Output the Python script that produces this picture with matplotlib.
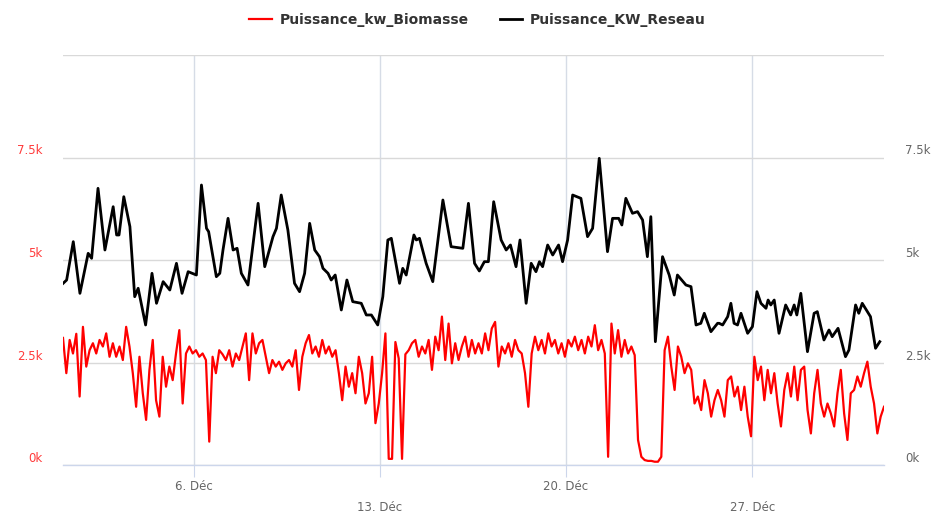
import matplotlib
matplotlib.use("Agg")
import matplotlib.pyplot as plt
import matplotlib.transforms as mtransforms
import numpy as np
import pandas as pd

# Puissance_kw_Biomasse: one reading every 3 h, starting 1 Dec 02:00
BIO_START = "2023-12-01 02:00"
BIO_STEP_H = 3
bio_kw = [
    3100, 2240, 3050, 2720, 3200, 1670, 3370, 2400, 2800, 2970,
    2720, 3050, 2890, 3210, 2640, 2970, 2640, 2890, 2560, 3370,
    2890, 2240, 1420, 2640, 1750, 1100, 2320, 3050, 1580, 1180,
    2640, 1910, 2400, 2070, 2720, 3290, 1500, 2720, 2890, 2720,
    2800, 2640, 2720, 2560, 570, 2640, 2240, 2800, 2700,
    2560, 2800, 2400, 2720, 2560, 2890, 3210, 2070, 3210, 2720,
    2970, 3050, 2640, 2240, 2560, 2400, 2520, 2320, 2480, 2560,
    2400, 2800, 1830, 2640, 2970, 3170, 2720, 2890, 2640, 3050,
    2720, 2890, 2640, 2800, 2240, 1580, 2400, 1910, 2240, 1750,
    2640, 2240, 1500, 1750, 2640, 1020, 1500, 2240, 3210,
    150, 150, 3000, 2600, 150, 2700, 2800, 2970, 3050, 2640,
    2890, 2720, 3050, 2320, 3130, 2800, 3620, 2560, 3450, 2480,
    2970, 2560, 2890, 3130, 2640, 3050, 2720, 2970, 2720, 3210,
    2800, 3330, 3490, 2400, 2890, 2720, 2970, 2640, 3050, 2800,
    2720, 2240, 1420, 2720, 3130, 2800, 3050, 2720, 3210, 2890,
    3050, 2720, 2970, 2640, 3050, 2890, 3130, 2800, 3050, 2720,
    3130, 2890, 3410, 2800, 3050, 2720, 200, 3450, 2720, 3290,
    2640, 3050, 2720, 2890, 2680, 610, 200, 120, 100, 100,
    80, 80, 200, 2800, 3130, 2400, 1830, 2890, 2640, 2240,
    2480, 2320, 1500, 1670, 1340, 2070, 1750, 1180, 1580, 1830,
    1580, 1180, 2070, 2160, 1670, 1910, 1340, 1910, 1180, 700,
    2640, 2070, 2400, 1580, 2320, 1750, 2240, 1500, 940, 1830,
    2240, 1670, 2400, 1580, 2320, 2400, 1340, 770, 1750, 2320,
    1500, 1180, 1500, 1260, 940, 1750, 2320, 1260, 610, 1750,
    1830, 2160, 1910, 2240, 2520, 1910, 1500, 770, 1180, 1420,
]

# Puissance_KW_Reseau: (day of December, kW)
res_day = [
    1.09, 1.22, 1.47, 1.72, 2.03, 2.16, 2.40, 2.66, 2.97, 3.10,
    3.19, 3.37, 3.60, 3.78, 3.91, 4.19, 4.43, 4.60, 4.85, 5.10,
    5.35, 5.56, 5.79, 6.10, 6.29, 6.48, 6.56, 6.85, 6.98, 7.10,
    7.29, 7.48, 7.63, 7.79, 8.04, 8.42, 8.67, 8.98, 9.11, 9.29,
    9.54, 9.79, 9.98, 10.17, 10.36, 10.55, 10.73, 10.86, 11.05, 11.17,
    11.32, 11.55, 11.76, 11.98, 12.30, 12.49, 12.68, 12.92, 13.11, 13.30,
    13.43, 13.74, 13.86, 13.99, 14.28, 14.37, 14.49, 14.74, 14.99, 15.37,
    15.68, 16.12, 16.33, 16.56, 16.74, 16.93, 17.08, 17.28, 17.56, 17.75,
    17.91, 18.12, 18.27, 18.50, 18.69, 18.87, 19.00, 19.12, 19.31, 19.50,
    19.72, 19.87, 20.06, 20.25, 20.56, 20.81, 21.00, 21.25, 21.56, 21.75,
    21.98, 22.10, 22.25, 22.50, 22.69, 22.88, 23.06, 23.19, 23.36, 23.63,
    23.88, 24.07, 24.19, 24.51, 24.70, 24.89, 25.07, 25.20, 25.45, 25.70,
    25.76, 25.89, 26.08, 26.20, 26.32, 26.45, 26.58, 26.83, 27.01, 27.18,
    27.33, 27.52, 27.60, 27.70, 27.83, 28.01, 28.26, 28.45, 28.58, 28.68,
    28.83, 29.08, 29.33, 29.45, 29.70, 29.89, 30.01, 30.23, 30.51, 30.64,
    30.89, 31.01, 31.14, 31.45, 31.64, 31.80,
]
res_kw = [
    4432, 4512, 5447, 4187, 5163, 5041, 6748, 5244, 6300, 5610,
    5610, 6544, 5813, 4105, 4310, 3415, 4675, 3944, 4472, 4268,
    4919, 4187, 4715, 4634, 6829, 5772, 5691, 4593, 4675, 5244,
    6016, 5244, 5285, 4675, 4390, 6382, 4837, 5569, 5772, 6585,
    5732, 4431, 4227, 4675, 5894, 5244, 5081, 4797, 4675, 4512,
    4634, 3781, 4512, 3984, 3944, 3659, 3659, 3415, 4105, 5488,
    5529, 4431, 4797, 4634, 5610, 5488, 5529, 4919, 4472, 6463,
    5325, 5285, 6382, 4919, 4732, 4959, 4959, 6422, 5488, 5244,
    5366, 4837, 5488, 3944, 4919, 4715, 4959, 4837, 5366, 5122,
    5366, 4959, 5488, 6585, 6504, 5569, 5772, 7480, 5203, 6016,
    6016, 5854, 6504, 6139, 6179, 5976, 5081, 6057, 3008, 5081,
    4634, 4146, 4634, 4390, 4350, 3415, 3456, 3700, 3252, 3456,
    3456, 3415, 3618, 3944, 3456, 3415, 3700, 3212, 3374, 4227,
    3944, 3822, 4024, 3903, 4024, 3212, 3903, 3659, 3903, 3659,
    4187, 2764, 3700, 3740, 3049, 3293, 3130, 3334, 2642, 2805,
    3903, 3700, 3944, 3618, 2846, 3008,
]

y_ticks = [0, 2500, 5000, 7500, 10000]
y_labels = ["0k", "2.5k", "5k", "7.5k", ""]
x_tick_days = [6, 13, 20, 27]

month0 = pd.Timestamp("2023-12-01")
bio_t = pd.date_range(BIO_START, periods=len(bio_kw), freq=f"{BIO_STEP_H}h")
res_t = month0 + pd.to_timedelta(np.array(res_day) - 1, unit="D")
tick_t = [month0 + pd.Timedelta(days=d - 1) for d in x_tick_days]

fig = plt.figure(figsize=(9.44, 5.21), dpi=100)
ax = fig.add_axes([63 / 944, 56 / 521, 821 / 944, 410 / 521])
ax2 = ax.twinx()

l_bio, = ax.plot(bio_t, bio_kw, color="#ff0000", lw=1.6, solid_joinstyle="round")
l_res, = ax2.plot(res_t, res_kw, color="black", lw=2.0, solid_joinstyle="round")

for a in (ax, ax2):
    a.set_ylim(0, 10000)
    a.set_yticks(y_ticks, y_labels)
    for s in a.spines.values():
        s.set_visible(False)
ax.set_xlim(bio_t[0], bio_t[-1])

ax.spines["bottom"].set_visible(True)
ax.spines["bottom"].set_color("#ccd6eb")
ax.spines["bottom"].set_linewidth(1.0)

ax.grid(axis="y", color="#d9d9d9", lw=1.0)
ax.grid(axis="x", color="#d6dce6", lw=1.0)
ax.set_axisbelow(True)

ax.set_xticks(tick_t, [f"{d}. Déc" for d in x_tick_days])
ax.tick_params(axis="x", length=8.5, width=0.8, color="#ccd6eb",
               labelcolor="#666666", labelsize=8.5, pad=2)
ax.tick_params(axis="y", length=0, pad=15, labelcolor="#ff3b3b", labelsize=8.5)
ax2.tick_params(axis="y", length=0, pad=15, labelcolor="#666666", labelsize=8.5)

# Highcharts style: y labels sit a little above their grid line
up = mtransforms.ScaledTranslation(0, 0.08, fig.dpi_scale_trans)
for lab in ax.get_yticklabels() + ax2.get_yticklabels():
    lab.set_transform(lab.get_transform() + up)
# staggered date labels
down = mtransforms.ScaledTranslation(0, -0.21, fig.dpi_scale_trans)
for lab in ax.get_xticklabels()[1::2]:
    lab.set_transform(lab.get_transform() + down)

fig.legend([l_bio, l_res], ["Puissance_kw_Biomasse", "Puissance_KW_Reseau"],
           loc="center", bbox_to_anchor=(0.506, 0.962), ncol=2, frameon=False,
           prop=dict(weight="bold", size=10), labelcolor="#333333",
           handlelength=1.6, handletextpad=0.6, columnspacing=2.2)

fig.savefig("out.png", dpi=100)
